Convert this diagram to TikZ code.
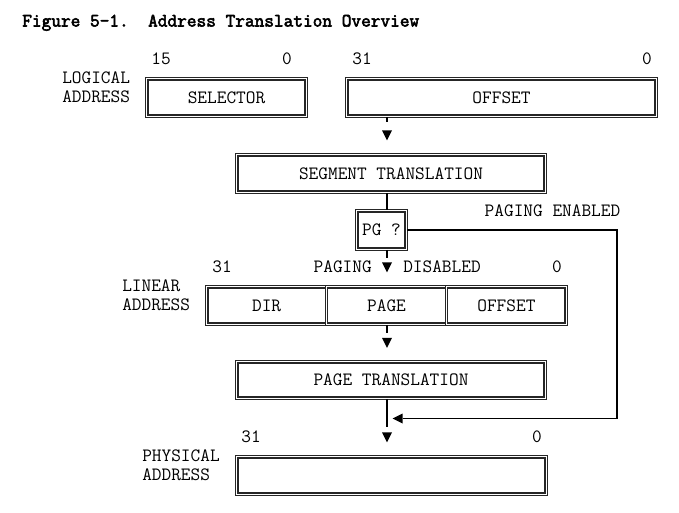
\documentclass[tikz,border=0pt]{standalone}
\usepackage{fontspec}
\newfontfamily\titlefont{Latin Modern Mono}[FakeBold=3]
\usetikzlibrary{shapes.geometric}
\begin{document}
\begin{tikzpicture}[x=0.75pt,y=-0.75pt,
  every node/.style={font=\ttfamily\fontsize{14.1}{14.25}\selectfont, inner sep=0pt, text=black},
  dbox/.style 2 args={draw=black!85, double=white, line width=0.8pt, double distance=1.1pt,
     minimum width=#1*0.75pt, minimum height=#2*0.75pt, inner sep=0pt},
  tri/.style={isosceles triangle, isosceles triangle stretches, fill=black, draw=none,
     minimum width=7.5pt, minimum height=7.5pt, inner sep=0pt},
  conn/.style={draw=black, line width=0.8pt},
  lbl/.style={anchor=west, align=left}]
\useasboundingbox (0,0) rectangle (679,512);

% title
\node[anchor=base west, font=\titlefont\bfseries\fontsize{14.1}{14.25}\selectfont] (title) at (22,26.5) {Figure 5-1.\ \ Address Translation Overview};

% logical address
\node[lbl] (llog) at (62,87.5) {LOGICAL\\ADDRESS};
\node (b15) at (161,59) {15};
\node (b0a) at (287,59) {0};
\node (b31a) at (362,59) {31};
\node (b0b) at (647,59) {0};
\node[dbox={159.5}{37.5}] (sel) at (226.5,97.5) {SELECTOR};
\node[dbox={309.5}{37.5}] (off) at (501.5,97.5) {OFFSET};

\node[tri, shape border rotate=270, anchor=north] (t1) at (387,130) {};

% segment translation
\node[dbox={308.5}{37.5}] (seg) at (391,173.5) {SEGMENT TRANSLATION};
\node[dbox={49.5}{38.5}] (pg) at (381.5,230) {PG ?};
\node (pen) at (552.5,211) {PAGING ENABLED};

% linear address
\node (b31b) at (222,267) {31};
\node[anchor=east] (pgd1) at (372,267) {PAGING};
\node[tri, shape border rotate=270, anchor=north] (t2) at (387,262) {};
\node[anchor=west] (pgd2) at (403,267) {DISABLED};
\node (b0c) at (557,267) {0};
\node[lbl] (llin) at (122,295.5) {LINEAR\\ADDRESS};
\node[dbox={119.75}{37.5}] (dir) at (266.6,305.5) {DIR};
\node[dbox={120}{37.5}] (page) at (386.5,305.5) {PAGE};
\node[dbox={119.75}{37.5}] (loff) at (506.4,305.5) {OFFSET};

\node[tri, shape border rotate=270, anchor=north] (t3) at (387,337.5) {};

% page translation
\node[dbox={308.5}{36.5}] (ptr) at (391,380) {PAGE TRANSLATION};
\node[tri, shape border rotate=180, anchor=west] (t4) at (392,418.5) {};
\coordinate (cr) at (617,418.5);
\node[tri, shape border rotate=270, anchor=north] (t5) at (387,432) {};

% physical address
\node (b31c) at (251,437) {31};
\node (b0d) at (537,437) {0};
\node[lbl] (lphy) at (142,465.5) {PHYSICAL\\ADDRESS};
\node[dbox={309.5}{37.5}] (phy) at (391.5,475.5) {};

% connectors
\draw[conn, shorten >=6pt] (off.south -| t1.north) -- (t1.north);
\draw[conn] (seg.south -| t1.north) -- (pg.north -| t1.north);
\draw[conn, shorten >=3pt] (pg.south -| t2.north) -- (t2.north);
\draw[conn, shorten >=3.75pt] (page.south -| t3.north) -- (t3.north);
\draw[conn, shorten >=3.75pt] (ptr.south -| t5.north) -- (t5.north);
\draw[conn] (pg.east) -| (cr) -- (t4.east);
\end{tikzpicture}
\end{document}
